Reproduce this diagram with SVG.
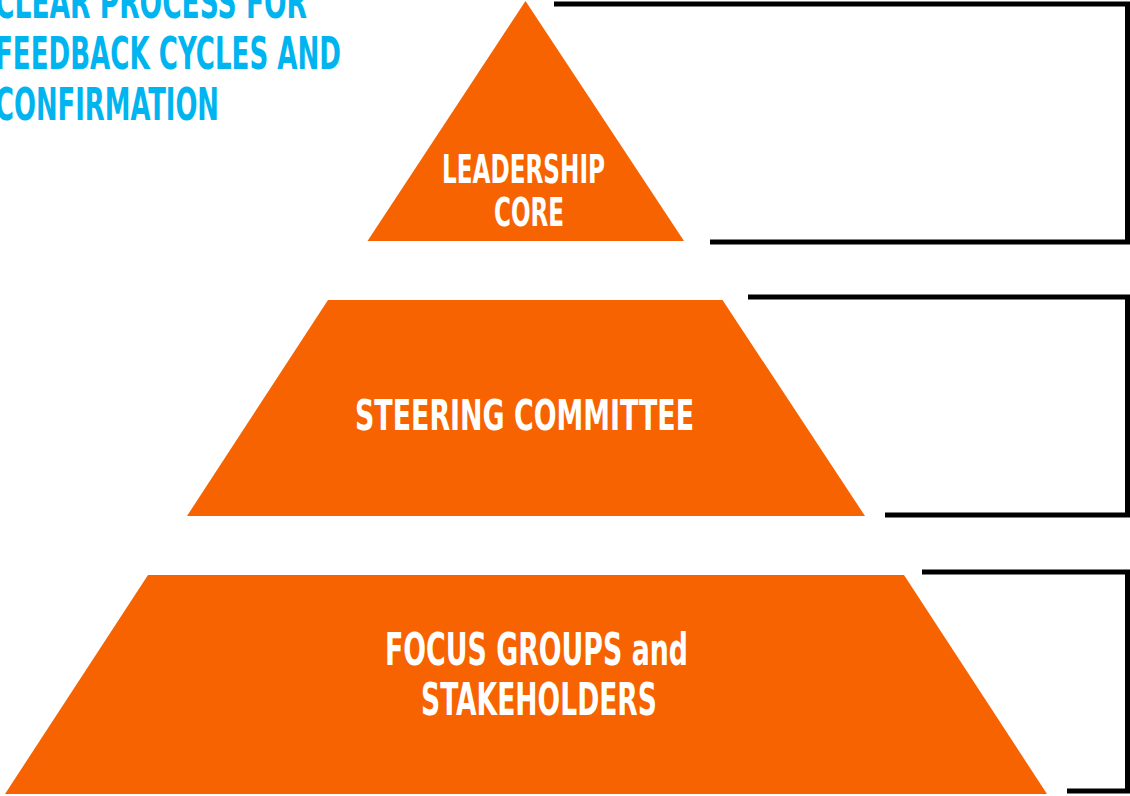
<svg xmlns="http://www.w3.org/2000/svg" width="1130" height="796" viewBox="0 0 1130 796">
<style>
.tier{fill:#F76300}
.lbl{font-family:"Liberation Sans Narrow","DejaVu Sans Condensed","Liberation Sans",sans-serif;font-weight:bold;fill:#FFFFFF}
.title{font-family:"Liberation Sans Narrow","DejaVu Sans Condensed","Liberation Sans",sans-serif;font-weight:bold;fill:#00B4EF;font-size:44px}
.br{fill:none;stroke:#000;stroke-width:5;stroke-linejoin:miter}
</style>
<rect width="1130" height="796" fill="#FFFFFF"/>
<g id="title">
<text class="title" x="-5" y="18" textLength="312" lengthAdjust="spacingAndGlyphs">CLEAR PROCESS FOR</text>
<text class="title" x="-5" y="69" textLength="346" lengthAdjust="spacingAndGlyphs">FEEDBACK CYCLES AND</text>
<text class="title" x="-5" y="120" textLength="224" lengthAdjust="spacingAndGlyphs">CONFIRMATION</text>
</g>
<g id="leadership-core">
<polygon class="tier" points="525.5,1 684,241 367.5,241"/>
<text class="lbl" font-size="39" x="442" y="183" textLength="163" lengthAdjust="spacingAndGlyphs">LEADERSHIP</text>
<text class="lbl" font-size="39" x="494" y="226" textLength="70" lengthAdjust="spacingAndGlyphs">CORE</text>
</g>
<g id="steering-committee">
<polygon class="tier" points="328,300 722.5,300 865,516 187,516"/>
<text class="lbl" font-size="43" x="355" y="430" textLength="339" lengthAdjust="spacingAndGlyphs">STEERING COMMITTEE</text>
</g>
<g id="focus-groups">
<polygon class="tier" points="148,575 904,575 1047,794 5,794"/>
<text class="lbl" font-size="45" x="385" y="665" textLength="303" lengthAdjust="spacingAndGlyphs">FOCUS GROUPS and</text>
<text class="lbl" font-size="45" x="421" y="715" textLength="236" lengthAdjust="spacingAndGlyphs">STAKEHOLDERS</text>
</g>
<g id="connectors">
<path class="br" d="M554,4 H1127.5 V242 H710"/>
<path class="br" d="M748,297 H1127.5 V515 H885"/>
<path class="br" d="M922,572 H1127.5 V791 H1067"/>
</g>
</svg>
